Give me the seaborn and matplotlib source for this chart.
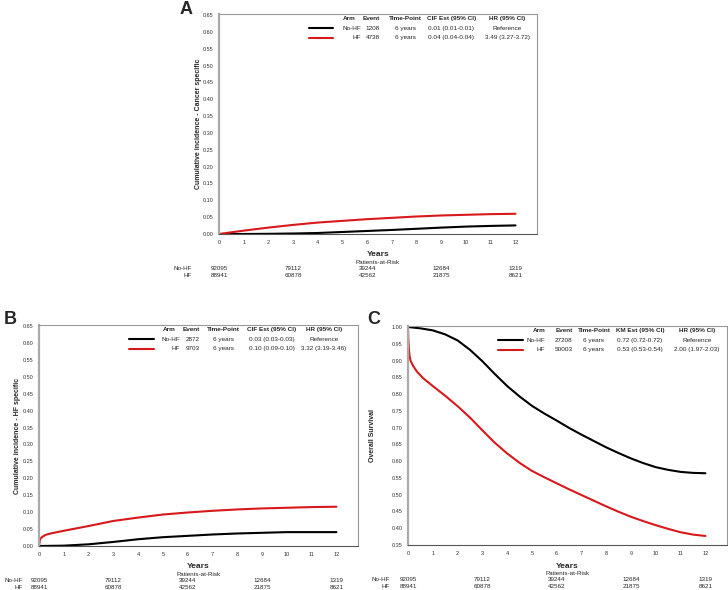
import numpy as np
import pandas as pd
import matplotlib.pyplot as plt
import seaborn as sns

# years on follow-up for each curve
years_a = [0, 1, 2, 3, 4, 5, 6, 7, 8, 9, 10, 11, 12]
cancer_nohf = [0, 0, 0.0005, 0.0015, 0.003, 0.006, 0.009, 0.012, 0.0155, 0.019, 0.022, 0.024, 0.0255]
cancer_hf = [0, 0.010, 0.019, 0.027, 0.034, 0.039, 0.044, 0.048, 0.052, 0.055, 0.057, 0.059, 0.060]

years_b_nohf = [0, 1, 2, 3, 4, 5, 6, 7, 8, 9, 10, 11, 12]
hfspec_nohf = [0, 0.001, 0.005, 0.012, 0.020, 0.026, 0.030, 0.034, 0.037, 0.039, 0.041, 0.041, 0.041]
years_b_hf = [0, 0.04, 0.13, 0.27, 0.47, 1, 2, 3, 4, 5, 6, 7, 8, 9, 10, 11, 12]
hfspec_hf = [0, 0.020, 0.027, 0.033, 0.037, 0.045, 0.059, 0.074, 0.084, 0.093, 0.099, 0.104, 0.108, 0.111, 0.113, 0.115, 0.116]

years_c_nohf = [0, 0.5, 1, 1.5, 2, 2.5, 3, 3.5, 4, 4.5, 5, 5.5, 6, 6.5, 7, 7.5, 8, 8.5, 9, 9.5, 10, 10.5, 11, 11.5, 12]
os_nohf = [1.0, 0.996, 0.990, 0.978, 0.960, 0.932, 0.898, 0.860, 0.824, 0.793, 0.765, 0.742, 0.721, 0.699,
           0.679, 0.660, 0.641, 0.624, 0.608, 0.594, 0.582, 0.574, 0.568, 0.565, 0.564]
years_c_hf = [0, 0.01, 0.03, 0.06, 0.1, 0.2, 0.35, 0.6, 1, 1.5, 2, 2.5, 3, 3.5, 4, 4.5, 5, 5.5, 6, 6.5, 7,
              7.5, 8, 8.5, 9, 9.5, 10, 10.5, 11, 11.5, 12]
os_hf = [1.0, 0.97, 0.94, 0.915, 0.90, 0.885, 0.868, 0.848, 0.824, 0.795, 0.764, 0.730, 0.692, 0.655, 0.623,
         0.595, 0.571, 0.552, 0.534, 0.516, 0.499, 0.482, 0.465, 0.449, 0.434, 0.421, 0.409, 0.398, 0.388,
         0.381, 0.377]

arms = ["No-HF", "HF"]
risk_years = [0, 3, 6, 9, 12]
risk_nohf = ["92095", "79112", "39244", "12684", "1319"]
risk_hf = ["88941", "60878", "42562", "21875", "8621"]

events_a = ["1208", "4738"]
est_a = ["0.01 (0.01-0.01)", "0.04 (0.04-0.04)"]
hr_a = ["Reference", "3.49 (3.27-3.72)"]
events_b = ["2872", "9703"]
est_b = ["0.03 (0.03-0.03)", "0.10 (0.09-0.10)"]
hr_b = ["Reference", "3.32 (3.19-3.46)"]
events_c = ["27208", "50003"]
est_c = ["0.72 (0.72-0.72)", "0.53 (0.53-0.54)"]
hr_c = ["Reference", "2.00 (1.97-2.03)"]

colors = {"No-HF": "black", "HF": "#d7191c"}

sns.set_style("white")
plt.rcParams["font.family"] = ["Liberation Sans", "DejaVu Sans"]


def make_df(x0, y0, x1, y1):
    return pd.concat([
        pd.DataFrame({"Years": x0, "Value": y0, "Arm": "No-HF"}),
        pd.DataFrame({"Years": x1, "Value": y1, "Arm": "HF"}),
    ])


def panel(ax, df, ylim, yticks, ylabel, ylabel_x, est_head, events, ests, hrs, label_off, cols):
    sns.lineplot(data=df, x="Years", y="Value", hue="Arm", palette=colors, hue_order=arms,
                 estimator=None, linewidth=1.5, legend=False, ax=ax)
    ax.set_xlim(0, 12.87)
    ax.set_ylim(*ylim)
    ax.set_xticks(range(13))
    ax.set_yticks(yticks)
    ax.set_yticklabels([f"{v:.2f}" for v in yticks])
    ax.tick_params(labelsize=4, length=2, width=0.5, pad=2, colors="#333333")
    for s in ax.spines.values():
        s.set_color("#999999")
        s.set_linewidth(0.8)
    ax.spines["left"].set_linewidth(1.6)
    ax.spines["left"].set_color("#aaaaaa")
    ax.spines["bottom"].set_color("#555555")
    ax.set_xlabel("Years", fontsize=6, fontweight="bold", labelpad=5)
    ax.set_ylabel(ylabel, fontsize=5, fontweight="bold")
    ax.yaxis.set_label_coords(ylabel_x, 0.5)

    # legend table
    fs = 4.6
    ys = [0.978, 0.935, 0.892]
    arm_x, name_x, ev_x, tp_x, est_x, hr_x = cols
    heads = [("Arm", arm_x, "center"), ("Event", ev_x, "right"), ("Time-Point", tp_x, "center"),
             (est_head, est_x, "center"), ("HR (95% CI)", hr_x, "center")]
    for t, x, ha in heads:
        ax.text(x, ys[0], t, transform=ax.transAxes, fontsize=fs, fontweight="bold", ha=ha, va="center")
    for i, arm in enumerate(arms):
        y = ys[i + 1]
        ax.plot([0.282, 0.36], [y, y], color=colors[arm], lw=1.5, transform=ax.transAxes)
        ax.text(name_x, y, arm, transform=ax.transAxes, fontsize=fs, ha="right", va="center")
        ax.text(ev_x, y, events[i], transform=ax.transAxes, fontsize=fs, ha="right", va="center")
        ax.text(tp_x, y, "6 years", transform=ax.transAxes, fontsize=fs, ha="center", va="center")
        ax.text(est_x, y, ests[i], transform=ax.transAxes, fontsize=fs, ha="center", va="center")
        ax.text(hr_x, y, hrs[i], transform=ax.transAxes, fontsize=fs, ha="center", va="center")

    # patients at risk
    tr = ax.get_xaxis_transform()
    ax.text(0.5, -0.13, "Patients-at-Risk", transform=ax.transAxes, fontsize=4.5, ha="center", va="center")
    for row, (arm, vals) in enumerate(zip(arms, [risk_nohf, risk_hf])):
        y = -0.157 - 0.032 * row
        ax.text(label_off, y, arm, transform=tr, fontsize=4.5, ha="right", va="center", clip_on=False)
        for x, v in zip(risk_years, vals):
            ax.text(x, y, v, transform=tr, fontsize=4.5, ha="center", va="center")


fig = plt.figure(figsize=(7.28, 5.90), dpi=100)
axA = fig.add_axes([219 / 728, 1 - 234 / 590, 318 / 728, 220 / 590])
axB = fig.add_axes([39 / 728, 1 - 546 / 590, 319 / 728, 221 / 590])
axC = fig.add_axes([408 / 728, 1 - 545 / 590, 319 / 728, 219 / 590])

cif_ticks = np.round(np.arange(0, 0.651, 0.05), 2)
os_ticks = np.round(np.arange(0.35, 1.001, 0.05), 2)

cols_a = (0.41, 0.448, 0.505, 0.585, 0.73, 0.906)
cols_b = (0.408, 0.443, 0.505, 0.578, 0.73, 0.893)
cols_c = (0.41, 0.429, 0.516, 0.583, 0.727, 0.906)

panel(axA, make_df(years_a, cancer_nohf, years_a, cancer_hf), (0, 0.653), cif_ticks,
      "Cumulative incidence - Cancer specific", -0.055, "CIF Est (95% CI)", events_a, est_a, hr_a, -1.1, cols_a)
panel(axB, make_df(years_b_nohf, hfspec_nohf, years_b_hf, hfspec_hf), (0, 0.653), cif_ticks,
      "Cumulative incidence - HF specific", -0.055, "CIF Est (95% CI)", events_b, est_b, hr_b, -0.65, cols_b)
panel(axC, make_df(years_c_nohf, os_nohf, years_c_hf, os_hf), (0.35, 1.003), os_ticks,
      "Overall Survival", -0.1, "KM Est (95% CI)", events_c, est_c, hr_c, -0.75, cols_c)

fig.text(180 / 728, 1 - 1 / 590, "A", fontsize=13, fontweight="bold", va="top")
fig.text(4 / 728, 1 - 311 / 590, "B", fontsize=13, fontweight="bold", va="top")
fig.text(367 / 728, 1 - 311 / 590, "C", fontsize=13, fontweight="bold", va="top")

fig.savefig("out.png", dpi=100)
